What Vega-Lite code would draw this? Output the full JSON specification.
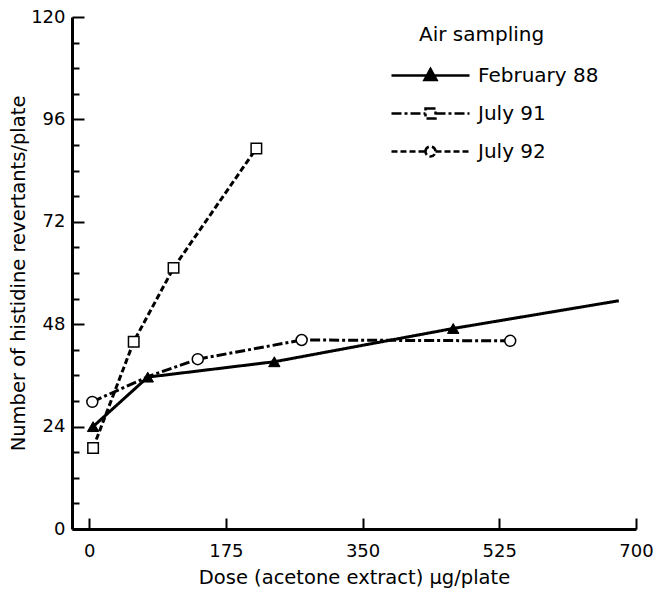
{
  "$schema": "https://vega.github.io/schema/vega-lite/v6.json",
  "width": 564,
  "height": 512,
  "autosize": "none",
  "padding": {"left": 72, "top": 17, "right": 21, "bottom": 64},
  "background": "white",
  "config": {
    "font": "DejaVu Sans",
    "view": {"stroke": null},
    "axis": {
      "grid": false,
      "labelFont": "DejaVu Sans",
      "labelFontSize": 18,
      "labelColor": "black",
      "labelFlush": false,
      "titleFont": "DejaVu Sans",
      "titleFontSize": 19.5,
      "titleFontWeight": "normal",
      "titleColor": "black",
      "domainColor": "black",
      "domainWidth": 3,
      "tickColor": "black",
      "tickWidth": 2
    }
  },
  "data": {
    "values": [
      {"series": "February 88", "dose": 5, "revertants": 24, "measured": true},
      {"series": "February 88", "dose": 75, "revertants": 35.6, "measured": true},
      {"series": "February 88", "dose": 237, "revertants": 39.2, "measured": true},
      {"series": "February 88", "dose": 466, "revertants": 47, "measured": true},
      {"series": "February 88", "dose": 678, "revertants": 53.5, "measured": false},
      {"series": "July 92", "dose": 5, "revertants": 19, "measured": true},
      {"series": "July 92", "dose": 57, "revertants": 43.9, "measured": true},
      {"series": "July 92", "dose": 108, "revertants": 61.2, "measured": true},
      {"series": "July 92", "dose": 214, "revertants": 89.2, "measured": true},
      {"series": "July 91", "dose": 4, "revertants": 29.8, "measured": true},
      {"series": "July 91", "dose": 75, "revertants": 35.7, "measured": false},
      {"series": "July 91", "dose": 139, "revertants": 39.8, "measured": true},
      {"series": "July 91", "dose": 272, "revertants": 44.3, "measured": true},
      {"series": "July 91", "dose": 539, "revertants": 44.1, "measured": true}
    ]
  },
  "resolve": {"axis": {"x": "independent", "y": "independent"}},
  "layer": [
    {
      "mark": {"type": "line", "strokeWidth": 3, "color": "black", "strokeCap": "butt"},
      "encoding": {
        "x": {
          "field": "dose", "type": "quantitative",
          "scale": {"domain": [-22, 700], "nice": false, "zero": false},
          "axis": {
            "orient": "bottom",
            "values": [0, 175, 350, 525, 700],
            "title": "Dose (acetone extract) μg/plate",
            "ticks": false,
            "labelPadding": 13,
            "titlePadding": 8
          }
        },
        "y": {
          "field": "revertants", "type": "quantitative",
          "scale": {"domain": [0, 120], "nice": false},
          "axis": {
            "orient": "left",
            "values": [0, 24, 48, 72, 96, 120],
            "ticks": false,
            "labelPadding": 7,
            "title": "Number of histidine revertants/plate",
            "titlePadding": 2
          }
        },
        "strokeDash": {
          "field": "series", "type": "nominal",
          "scale": {"domain": ["February 88", "July 91", "July 92"], "range": [[1, 0], [10, 3, 3, 3], [6, 3]]},
          "legend": {
            "title": "Air sampling",
            "orient": "none",
            "legendX": 347,
            "legendY": 8,
            "padding": 0,
            "titleFont": "DejaVu Sans",
            "titleFontSize": 20,
            "titleFontWeight": "normal",
            "titleColor": "black",
            "titlePadding": 19,
            "labelFont": "DejaVu Sans",
            "labelFontSize": 20,
            "labelColor": "black",
            "labelOffset": 36,
            "rowPadding": 16,
            "symbolSize": 400,
            "symbolStrokeWidth": 2.5,
            "symbolStrokeColor": "black",
            "encode": {
              "symbols": {
                "update": {
                  "shape": {"signal": "datum.value === 'February 88' ? 'M-3.9,0H3.9M-0.6,0.45L0,-0.65L0.6,0.45Z' : datum.value === 'July 91' ? 'M-3.9,0H-0.5M0.5,0H3.9M-0.5,-0.5H0.5V0.5H-0.5Z' : 'M-3.9,0H-0.5M0.5,0H3.9M-0.5,0A0.5,0.5,0,1,1,0.5,0A0.5,0.5,0,1,1,-0.5,0Z'"},
                  "fill": {"signal": "datum.value === 'February 88' ? 'black' : 'white'"},
                  "stroke": {"value": "black"},
                  "opacity": {"value": 1}
                }
              }
            }
          }
        }
      }
    },
    {
      "transform": [{"filter": "datum.series === 'February 88' && datum.measured"}],
      "mark": {"type": "point", "shape": "triangle-up", "filled": true, "fill": "black", "stroke": "black", "strokeWidth": 1, "size": 130, "opacity": 1},
      "encoding": {
        "x": {
          "field": "dose", "type": "quantitative",
          "axis": {
            "orient": "top",
            "offset": -512,
            "values": [0, 175, 350, 525, 700],
            "labels": false,
            "domain": false,
            "title": null,
            "tickSize": 11
          }
        },
        "y": {
          "field": "revertants", "type": "quantitative",
          "axis": {
            "orient": "right",
            "offset": -564,
            "values": [0, 6, 12, 18, 24, 30, 36, 42, 48, 54, 60, 66, 72, 78, 84, 90, 96, 102, 108, 114, 120],
            "labels": false,
            "domain": false,
            "title": null,
            "tickSize": {"condition": {"test": "datum.value % 24 === 0", "value": 12}, "value": 7}
          }
        }
      }
    },
    {
      "transform": [{"filter": "datum.series === 'July 92' && datum.measured"}],
      "mark": {"type": "point", "shape": "square", "filled": true, "fill": "white", "stroke": "black", "strokeWidth": 1.5, "size": 110, "opacity": 1},
      "encoding": {
        "x": {"field": "dose", "type": "quantitative", "axis": null},
        "y": {"field": "revertants", "type": "quantitative", "axis": null}
      }
    },
    {
      "transform": [{"filter": "datum.series === 'July 91' && datum.measured"}],
      "mark": {"type": "point", "shape": "circle", "filled": true, "fill": "white", "stroke": "black", "strokeWidth": 1.5, "size": 120, "opacity": 1},
      "encoding": {
        "x": {"field": "dose", "type": "quantitative", "axis": null},
        "y": {"field": "revertants", "type": "quantitative", "axis": null}
      }
    }
  ]
}
